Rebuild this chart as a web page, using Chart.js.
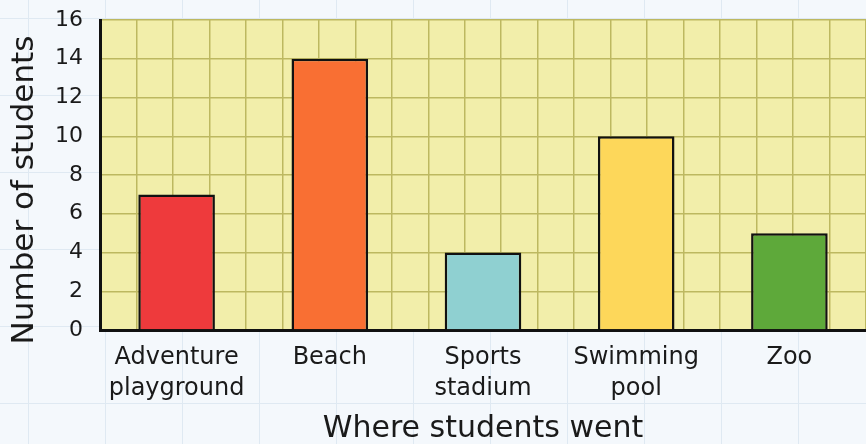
<!DOCTYPE html>
<html>
<head>
<meta charset="utf-8">
<script src="https://cdn.jsdelivr.net/npm/chart.js@4"></script>
<style>
  html, body { margin: 0; padding: 0; }
  body {
    width: 866px; height: 444px; overflow: hidden;
    background-color: #f4f8fc;
    background-image:
      linear-gradient(to right, #dfe9f2 1px, transparent 1px),
      linear-gradient(to bottom, #dfe9f2 1px, transparent 1px);
    background-size: 77px 77px;
    background-position: 28px 18px;
  }
  #wrap { position: relative; width: 866px; height: 444px; }
</style>
</head>
<body>
<div id="wrap"><canvas id="myChart"></canvas></div>
<script>
var places = [['Adventure', 'playground'], 'Beach', ['Sports', 'stadium'], ['Swimming', 'pool'], 'Zoo'];
var students = [7, 14, 4, 10, 5];
var barColours = ['#ee3a3c', '#f96f33', '#8fd0d1', '#fdd75a', '#5ea93a'];
var yTicks = [0, 2, 4, 6, 8, 10, 12, 14, 16];
var yTitle = 'Number of students';

var fontFamily = '"DejaVu Sans", "Noto Sans", sans-serif';
var gridColour = '#bdb860';

// yellow squared paper behind the bars
var plotBackground = {
    id: 'plotBackground',
    beforeDraw: function(chart) {
        var a = chart.chartArea;
        var ctx = chart.ctx;
        ctx.save();
        ctx.fillStyle = '#f2eeaa';
        ctx.fillRect(a.left, a.top, a.right - a.left, a.bottom - a.top);
        ctx.restore();
    }
};

// y title sits a little below the middle of the axis
var sideTitle = {
    id: 'sideTitle',
    afterDraw: function(chart) {
        var a = chart.chartArea;
        var ctx = chart.ctx;
        ctx.save();
        ctx.translate(25, (a.top + a.bottom) / 2 + 15);
        ctx.rotate(-Math.PI / 2);
        ctx.font = '31px ' + fontFamily;
        ctx.fillStyle = '#1a1a1a';
        ctx.textAlign = 'center';
        ctx.textBaseline = 'middle';
        ctx.fillText(yTitle, 0, 0);
        ctx.restore();
    }
};

document.addEventListener('DOMContentLoaded', function() {
    var myChart = document.getElementById('myChart');
    new Chart(myChart, {
        type: 'bar',
        data: {
            labels: places,
            datasets: [{
                label: yTitle,
                data: students,
                backgroundColor: barColours,
                borderColor: '#111',
                borderWidth: 2.5,
                barPercentage: 0.5,
                categoryPercentage: 1
            }]
        },
        options: {
            responsive: true,
            maintainAspectRatio: false,
            animation: false,
            layout: {padding: {top: 20, right: -4, left: 0, bottom: 0}},
            plugins: {legend: {display: false}, tooltip: {enabled: false}},
            scales: {
                x: {
                    type: 'category',
                    position: 'bottom',
                    offset: true,
                    grid: {display: false},
                    border: {color: '#111', width: 3},
                    ticks: {
                        color: '#1a1a1a',
                        padding: 4,
                        maxRotation: 0,
                        autoSkip: false,
                        font: {family: fontFamily, size: 24, lineHeight: 1.3}
                    },
                    title: {
                        display: true,
                        text: 'Where students went',
                        color: '#1a1a1a',
                        padding: {top: 0, bottom: 0},
                        font: {family: fontFamily, size: 30, lineHeight: 1}
                    },
                    afterFit: function(scale) { scale.height = 114; }
                },
                // quarter-category lines for the squared grid
                xGrid: {
                    type: 'linear',
                    position: 'bottom',
                    min: 0,
                    max: 20,
                    ticks: {display: false, stepSize: 1},
                    grid: {color: gridColour, lineWidth: 1.5, drawTicks: false},
                    border: {display: false},
                    afterFit: function(scale) { scale.height = 0; }
                },
                y: {
                    min: 0,
                    max: 16,
                    afterBuildTicks: function(scale) {
                        scale.ticks = yTicks.map(function(v) { return {value: v}; });
                    },
                    grid: {color: gridColour, lineWidth: 1.5, drawTicks: false},
                    border: {color: '#111', width: 3},
                    ticks: {
                        color: '#1a1a1a',
                        padding: 17,
                        font: {family: fontFamily, size: 22}
                    },
                    afterFit: function(scale) {
                        scale.width = 100;
                        scale.paddingTop = 0;
                        scale.paddingBottom = 0;
                    }
                }
            }
        },
        plugins: [plotBackground, sideTitle]
    });
});
</script>
</body>
</html>
